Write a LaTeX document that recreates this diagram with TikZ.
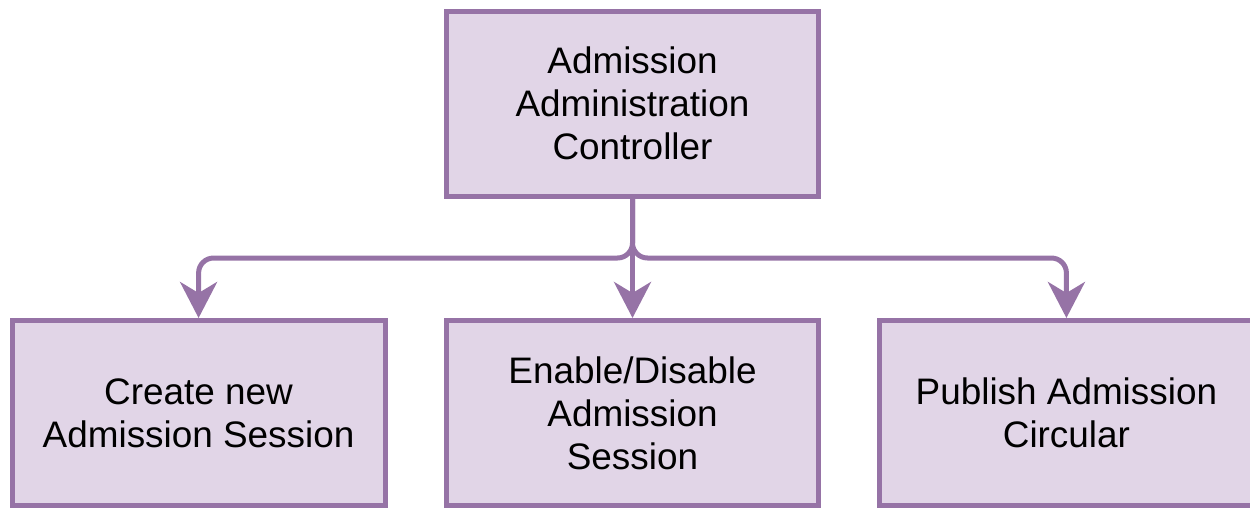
\documentclass[tikz,border=0pt]{standalone}
\usepackage{fontspec}
\setmainfont{Liberation Sans}
\usepackage{tikz}
\usetikzlibrary{arrows.meta,matrix}
\definecolor{boxline}{HTML}{9673A6}
\definecolor{boxfill}{HTML}{E1D5E7}

\begin{document}
\begin{tikzpicture}[
  x=0.02cm,y=-0.02cm,
  font=\fontsize{21}{24.5}\selectfont,
  every matrix/.style={ampersand replacement=\&,column sep=1.12cm,row sep=2.39cm},
  block/.style={draw=boxline,line width=0.1cm,fill=boxfill,minimum width=7.46cm,minimum height=3.7cm,inner sep=0pt},
  to/.style={-{Stealth[length=0.72cm,width=0.74cm,inset=0.22cm]},draw=boxline,line width=0.1cm,rounded corners=0.3cm},
  every node/.style={align=center}]

  \useasboundingbox (0,0) rectangle (1250,508);

  % Position the nodes using a matrix layout
  \matrix at (632.5,258.25) {
    \& \node[block] (ctrl) {Admission\\Administration\\Controller}; \& \\
    \node[block] (create) {Create new\\Admission Session};
      \& \node[block] (enable) {Enable/Disable\\Admission\\Session};
      \& \node[block] (publish) {Publish Admission\\Circular}; \\
  };

  % Split point below the controller
  \coordinate (split) at (632.5,258);

  % Draw the arrows from the controller to the three tasks
  \draw[to] (ctrl.south) -- (enable.north);
  \draw[to] (ctrl.south) -- (ctrl.south |- split) -| (create.north);
  \draw[to] (ctrl.south) -- (ctrl.south |- split) -| (publish.north);
\end{tikzpicture}
\end{document}
